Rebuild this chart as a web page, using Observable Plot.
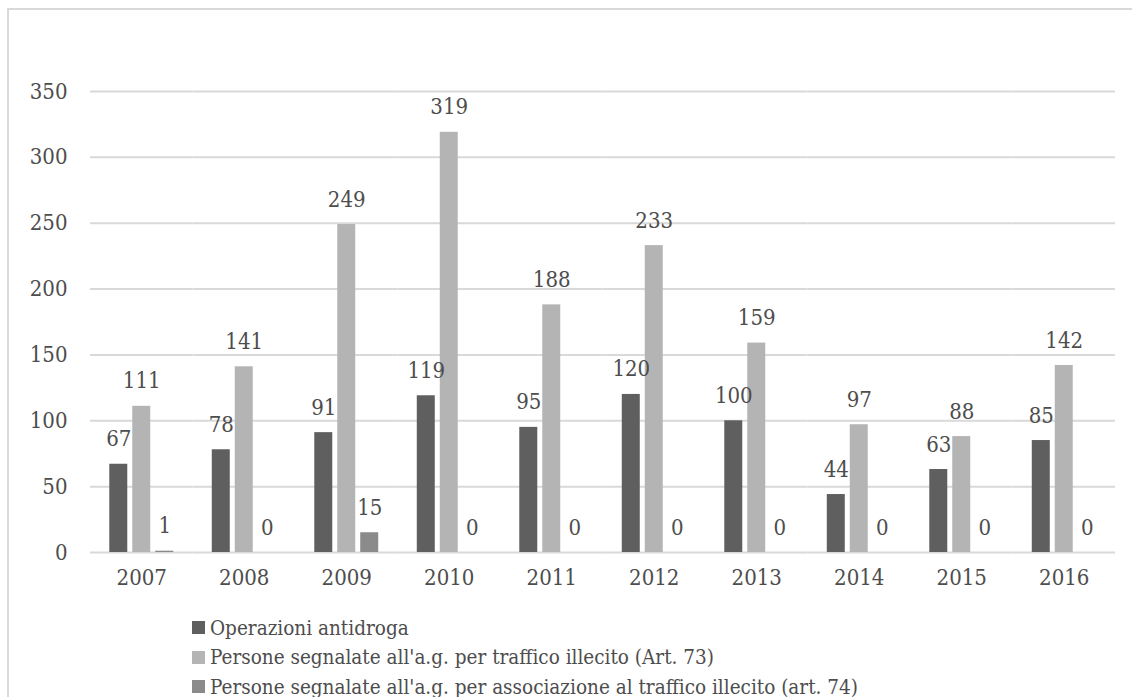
<!DOCTYPE html>
<html>
<head>
<meta charset="utf-8">
<script src="https://cdn.jsdelivr.net/npm/d3@7"></script>
<script src="https://cdn.jsdelivr.net/npm/@observablehq/plot@0.6"></script>
<style>
  html, body { margin: 0; padding: 0; background: #fff; width: 1132px; height: 697px; overflow: hidden; }
  #frame { position: absolute; left: 7px; top: 8px; width: 1140px; height: 720px;
           border-left: 2px solid #d9d9d9; border-top: 2px solid #d9d9d9; }
  #chart { position: absolute; left: 0; top: 0; }
  #legend { position: absolute; left: 183px; top: 603px;
            font-family: "DejaVu Serif Condensed", "DejaVu Serif", serif; font-stretch: condensed;
            font-size: 20.5px; color: #4d4d4d; }
  .item { display: flex; align-items: center; height: 29.5px; white-space: nowrap; }
  .sw { width: 13px; height: 13px; margin-right: 5px; flex: none; }
</style>
</head>
<body>
<div id="frame">
  <div id="chart"></div>
  <div id="legend"></div>
</div>
<script>
const years = ["2007","2008","2009","2010","2011","2012","2013","2014","2015","2016"];
const seriesNames = [
  "Operazioni antidroga",
  "Persone segnalate all'a.g. per traffico illecito (Art. 73)",
  "Persone segnalate all'a.g. per associazione al traffico illecito (art. 74)"
];
const operazioni = [67, 78, 91, 119, 95, 120, 100, 44, 63, 85];
const art73 = [111, 141, 249, 319, 188, 233, 159, 97, 88, 142];
const art74 = [1, 0, 15, 0, 0, 0, 0, 0, 0, 0];
const colors = ["#5f5f5f", "#b4b4b4", "#8b8b8b"];
const yTicks = [0, 50, 100, 150, 200, 250, 300, 350];

const seriesValues = [operazioni, art73, art74];
const data = [];
years.forEach((yr, i) => {
  seriesNames.forEach((s, j) => data.push({year: yr, series: s, value: seriesValues[j][i]}));
});

const FONT = "'DejaVu Serif Condensed', 'DejaVu Serif', serif";
const W = 1122, H = 589;
const chart = Plot.plot({
  width: W,
  height: H,
  marginLeft: 81,
  marginRight: 16,
  marginTop: 81,
  marginBottom: 47,
  style: {fontFamily: FONT, fontStretch: "condensed", fontSize: "22px", color: "#4d4d4d", background: "transparent"},
  fx: {domain: years, paddingInner: 0, paddingOuter: 0, round: false, label: null, axis: null},
  x: {domain: seriesNames, paddingInner: 0.217, paddingOuter: 0.839, round: false, axis: null},
  y: {domain: [0, 350], label: null, axis: null},
  color: {domain: seriesNames, range: colors},
  marks: [
    Plot.gridY(yTicks, {stroke: "#d9d9d9", strokeOpacity: 1, strokeWidth: 2}),
    Plot.axisY(yTicks, {tickSize: 0, tickPadding: 23, fill: "#4d4d4d", fontSize: 22, label: null}),
    Plot.axisFx({anchor: "bottom", tickSize: 0, tickPadding: 17, fill: "#4d4d4d", fontSize: 22, label: null}),
    Plot.barY(data, {fx: "year", x: "series", y: "value", fill: "series"}),
    Plot.text(data, {fx: "year", x: "series", y: "value", text: d => String(d.value),
      dy: -25, fill: "#4d4d4d", fontSize: 22})
  ]
});
document.getElementById("chart").appendChild(chart);

const legend = document.getElementById("legend");
seriesNames.forEach((s, j) => {
  const item = document.createElement("div");
  item.className = "item";
  const sw = document.createElement("span");
  sw.className = "sw";
  sw.style.background = colors[j];
  const t = document.createElement("span");
  t.textContent = s;
  item.appendChild(sw);
  item.appendChild(t);
  legend.appendChild(item);
});
</script>
</body>
</html>
